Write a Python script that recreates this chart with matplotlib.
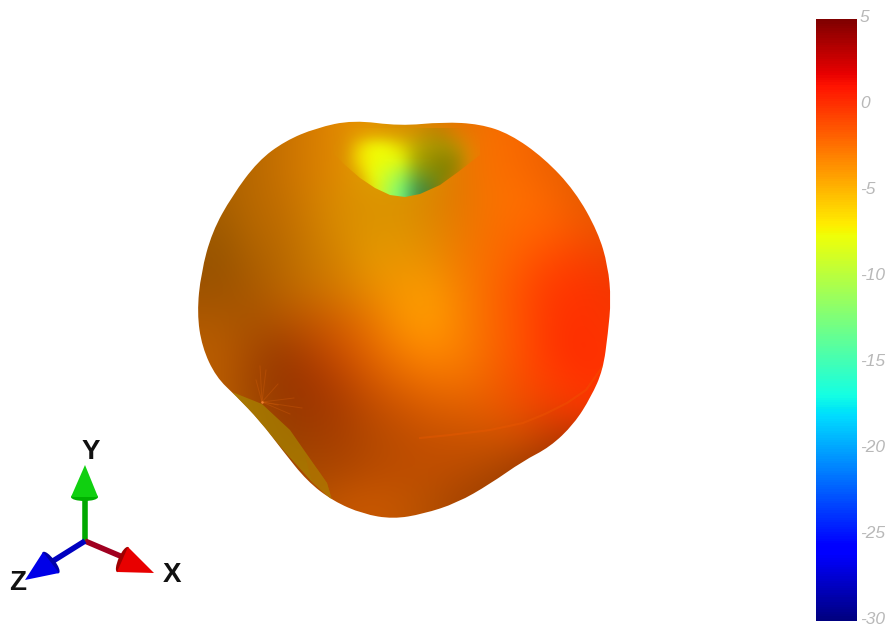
import numpy as np
import matplotlib
matplotlib.use('Agg')
import matplotlib.pyplot as plt
from matplotlib.path import Path
from matplotlib.patches import PathPatch, Polygon, Ellipse
from matplotlib.cm import ScalarMappable
from matplotlib.colors import Normalize
from matplotlib.transforms import ScaledTranslation

# silhouette of the pattern, in picture pixels
outline_x = [353, 400, 443, 480, 510, 544, 575, 598, 608, 611, 608, 603, 591, 574, 550, 523, 490, 457,
             423, 393, 363, 333, 307, 283, 260, 236, 216, 202, 197, 201, 212, 232, 258, 285, 316]
outline_y = [120, 126, 122, 124, 134, 158, 191, 232, 266, 300, 333, 370, 397, 424, 447, 461, 484, 503,
             514, 519, 514, 501, 481, 451, 421, 396, 377, 347, 313, 273, 232, 196, 161, 141, 128]

# gain (dB) and brightness
grid_x = [190, 220, 250, 280, 310, 340, 370, 400, 430, 460, 490, 520, 550, 580, 610]
grid_y = [110, 140, 170, 200, 230, 260, 290, 320, 350, 380, 410, 440, 470, 500, 530]
gain = [
    [-3.6, -3.6, -3.6, -3.6, -3.6, -3.8, -4.0, -4.0, -3.6, -3.0, -2.4, -2.1, -2.0, -2.0, -2.0],
    [-3.6, -3.6, -3.6, -3.6, -3.7, -4.0, -5.0, -5.0, -4.5, -3.2, -2.4, -2.2, -2.1, -2.0, -2.0],
    [-3.6, -3.6, -3.6, -3.6, -3.7, -4.0, -5.0, -5.0, -4.5, -3.2, -2.4, -2.2, -2.1, -2.0, -2.0],
    [-3.6, -3.6, -3.6, -3.6, -3.8, -4.2, -4.5, -4.5, -4.0, -3.2, -2.6, -2.3, -2.1, -1.9, -1.9],
    [-3.5, -3.5, -3.5, -3.6, -3.8, -4.2, -4.5, -4.5, -4.0, -3.2, -2.5, -2.1, -1.8, -1.5, -1.5],
    [-3.4, -3.4, -3.4, -3.6, -3.8, -4.0, -4.3, -4.2, -3.9, -3.0, -2.3, -1.6, -1.0, -0.7, -0.8],
    [-3.2, -3.2, -3.2, -3.3, -3.4, -3.5, -3.8, -4.0, -4.0, -3.1, -2.2, -1.2, -0.4, -0.1, -0.3],
    [-3.0, -3.0, -2.9, -2.6, -2.5, -2.6, -3.0, -3.7, -4.0, -3.2, -2.2, -1.2, -0.3, 0.0, -0.2],
    [-3.0, -2.9, -2.5, -1.9, -1.7, -1.9, -2.4, -3.0, -3.3, -3.0, -2.2, -1.2, -0.3, 0.1, -0.1],
    [-3.0, -2.9, -2.3, -1.6, -1.4, -1.6, -2.0, -2.4, -2.6, -2.6, -2.1, -1.2, -0.5, -0.1, -0.1],
    [-3.0, -3.0, -2.6, -1.9, -1.5, -1.6, -1.9, -2.1, -2.2, -2.2, -1.9, -1.4, -0.8, -0.4, -0.4],
    [-3.0, -3.0, -3.0, -2.2, -1.9, -1.8, -2.0, -2.1, -2.1, -2.1, -2.0, -1.7, -1.2, -0.8, -0.8],
    [-3.0, -3.0, -3.0, -2.6, -2.2, -2.1, -2.1, -2.1, -2.1, -2.1, -2.0, -1.8, -1.5, -1.3, -1.3],
    [-3.0, -3.0, -3.0, -2.7, -2.4, -2.3, -2.3, -2.3, -2.3, -2.1, -2.0, -1.8, -1.6, -1.5, -1.5],
    [-3.0, -3.0, -3.0, -2.7, -2.4, -2.3, -2.3, -2.3, -2.3, -2.1, -2.0, -1.8, -1.6, -1.5, -1.5],
]
shade = [
    [0.70, 0.70, 0.72, 0.78, 0.84, 0.90, 0.90, 0.85, 0.85, 0.90, 0.95, 0.97, 0.97, 0.97, 0.97],
    [0.70, 0.70, 0.72, 0.78, 0.84, 0.88, 0.90, 0.85, 0.85, 0.90, 0.98, 0.97, 0.93, 0.92, 0.92],
    [0.68, 0.68, 0.72, 0.78, 0.84, 0.88, 0.88, 0.85, 0.85, 0.90, 0.98, 0.98, 0.94, 0.90, 0.90],
    [0.66, 0.66, 0.72, 0.76, 0.82, 0.86, 0.86, 0.86, 0.86, 0.90, 0.97, 1.00, 0.98, 0.92, 0.90],
    [0.62, 0.62, 0.70, 0.74, 0.80, 0.85, 0.87, 0.87, 0.88, 0.92, 0.97, 1.00, 1.00, 0.96, 0.92],
    [0.60, 0.60, 0.67, 0.72, 0.78, 0.84, 0.90, 0.92, 0.92, 0.95, 0.98, 1.00, 1.00, 0.98, 0.94],
    [0.62, 0.62, 0.66, 0.72, 0.78, 0.84, 0.91, 0.97, 0.98, 0.97, 0.98, 1.00, 1.00, 1.00, 0.96],
    [0.68, 0.68, 0.66, 0.70, 0.76, 0.83, 0.91, 0.98, 1.00, 0.98, 0.98, 1.00, 1.00, 1.00, 0.98],
    [0.72, 0.72, 0.66, 0.62, 0.70, 0.80, 0.89, 0.96, 1.00, 0.98, 0.97, 1.00, 1.00, 1.00, 1.00],
    [0.72, 0.72, 0.64, 0.60, 0.64, 0.72, 0.82, 0.89, 0.94, 0.95, 0.95, 0.97, 1.00, 1.00, 1.00],
    [0.72, 0.72, 0.64, 0.60, 0.62, 0.66, 0.74, 0.80, 0.85, 0.87, 0.90, 0.92, 0.92, 0.96, 0.96],
    [0.72, 0.72, 0.66, 0.60, 0.63, 0.66, 0.70, 0.74, 0.77, 0.79, 0.80, 0.80, 0.74, 0.70, 0.70],
    [0.72, 0.72, 0.66, 0.64, 0.66, 0.68, 0.72, 0.74, 0.75, 0.73, 0.69, 0.64, 0.60, 0.58, 0.58],
    [0.72, 0.72, 0.68, 0.66, 0.70, 0.76, 0.78, 0.76, 0.71, 0.66, 0.62, 0.58, 0.58, 0.58, 0.58],
    [0.72, 0.72, 0.68, 0.66, 0.70, 0.76, 0.78, 0.76, 0.71, 0.66, 0.62, 0.58, 0.58, 0.58, 0.58],
]

# the dent at the top of the pattern
dent_x = [340, 355, 370, 385, 400, 415, 430, 445, 460, 475]
dent_y = [130, 145, 160, 175, 190, 205]
dent_gain = [
    [-5.0, -5.0, -5.5, -5.5, -5.5, -5.5, -6.0, -5.5, -5.0, -5.0],
    [-5.0, -6.5, -7.5, -7.5, -6.8, -6.5, -6.5, -6.5, -6.0, -5.0],
    [-5.0, -6.8, -7.4, -7.6, -7.6, -7.2, -7.0, -7.0, -6.3, -5.0],
    [-5.0, -6.2, -7.6, -9.0, -10.5, -10.0, -8.5, -7.5, -6.3, -5.0],
    [-5.0, -5.0, -7.5, -10.0, -12.5, -13.0, -11.0, -7.5, -5.0, -5.0],
    [-5.0, -5.0, -7.5, -10.5, -13.0, -13.0, -11.0, -7.5, -5.0, -5.0],
]
dent_shade = [
    [0.85, 0.90, 0.92, 0.90, 0.85, 0.75, 0.65, 0.65, 0.75, 0.85],
    [0.85, 0.97, 1.00, 1.00, 0.90, 0.75, 0.68, 0.66, 0.70, 0.85],
    [0.85, 0.97, 1.00, 1.00, 0.98, 0.70, 0.60, 0.56, 0.62, 0.85],
    [0.85, 0.92, 1.00, 1.00, 0.98, 0.66, 0.56, 0.52, 0.60, 0.85],
    [0.85, 0.90, 1.00, 1.00, 0.98, 0.60, 0.50, 0.50, 0.65, 0.85],
    [0.85, 0.90, 1.00, 1.00, 0.98, 0.60, 0.50, 0.50, 0.65, 0.85],
]
dent_alpha = [
    [0.0, 0.0, 0.0, 0.0, 0.0, 0.2, 0.4, 0.3, 0.0, 0.0],
    [0.0, 0.6, 1.0, 1.0, 1.0, 1.0, 1.0, 1.0, 0.6, 0.1],
    [0.1, 0.8, 1.0, 1.0, 1.0, 1.0, 1.0, 1.0, 0.9, 0.2],
    [0.0, 0.5, 1.0, 1.0, 1.0, 1.0, 1.0, 1.0, 0.7, 0.0],
    [0.0, 0.0, 0.8, 1.0, 1.0, 1.0, 1.0, 0.6, 0.0, 0.0],
    [0.0, 0.0, 0.8, 1.0, 1.0, 1.0, 1.0, 0.6, 0.0, 0.0],
]
dent_edge_x = [330, 345, 360, 375, 390, 405, 420, 440, 458, 480, 480, 330]
dent_edge_y = [150, 165, 178, 188, 195, 197, 194, 185, 172, 155, 128, 128]

# olive strip and folds at the lower left and lower right
strip_x = [232, 262, 290, 313, 327, 332, 312, 285, 258]
strip_y = [392, 404, 430, 463, 483, 500, 482, 452, 420]
strip_tip_x = [305, 318, 327, 332, 312]
strip_tip_y = [455, 470, 483, 500, 482]
star_dx = [-6, -2, 4, 16, 32, 40, 28, 16]
star_dy = [-22, -36, -32, -18, -4, 6, 12, 3]
fold_x = [603, 586, 567, 545, 523, 490, 450, 420]
fold_y = [366, 390, 403, 414, 423, 430, 435, 438]

bar_ticks = [5, 0, -5, -10, -15, -20, -25, -30]

# axis triad: shafts and cones, in picture pixels
origin = (85, 541)
axis_names = ['Y', 'X', 'Z']
axis_ends = [(85, 497), (125, 558), (53, 561)]
shaft_colors = ['#00a800', '#a00020', '#0000c0']
cone_pts = [
    [(85, 465), (71, 497), (98, 497)],
    [(154, 573), (128, 547), (117, 572)],
    [(25, 580), (43, 552), (59, 573)],
]
cone_colors = ['#10d010', '#e80000', '#0000e8']
cone_dark = ['#00b000', '#a00000', '#0000a8']
label_pos = [(91, 452), (172, 575), (18, 583)]


def surface_rgb(values, shades):
    rgb = plt.cm.jet(Normalize(-30, 5)(np.array(values)))[..., :3]
    return rgb * np.array(shades)[..., None]


fig = plt.figure(figsize=(8.9, 6.29), dpi=100)
ax = fig.add_axes([0, 0, 1, 1])

# closed smooth outline
n = len(outline_x)
verts = [((outline_x[-1] + outline_x[0]) / 2, (outline_y[-1] + outline_y[0]) / 2)]
codes = [Path.MOVETO]
for i in range(n):
    j = (i + 1) % n
    verts += [(outline_x[i], outline_y[i]), ((outline_x[i] + outline_x[j]) / 2, (outline_y[i] + outline_y[j]) / 2)]
    codes += [Path.CURVE3, Path.CURVE3]
body = PathPatch(Path(verts, codes), transform=ax.transData, fc='none', ec='none')
ax.add_patch(body)

im = ax.imshow(surface_rgb(gain, shade), interpolation='bicubic', aspect='auto',
               extent=(grid_x[0] - 15, grid_x[-1] + 15, grid_y[-1] + 15, grid_y[0] - 15), zorder=1)
im.set_clip_path(body)

# dent
dent = np.dstack([surface_rgb(dent_gain, dent_shade), dent_alpha])
im2 = ax.imshow(dent, interpolation='bicubic', aspect='auto',
                extent=(dent_x[0] - 7.5, dent_x[-1] + 7.5, dent_y[-1] + 7.5, dent_y[0] - 7.5), zorder=2)
im2.set_clip_path(Polygon(np.column_stack([dent_edge_x, dent_edge_y]), transform=ax.transData))

# lower left strip, star and right fold
strip = ax.add_patch(Polygon(np.column_stack([strip_x, strip_y]), fc='#a89000', ec='none', alpha=0.6, zorder=3))
strip.set_clip_path(body)
tip = ax.add_patch(Polygon(np.column_stack([strip_tip_x, strip_tip_y]), fc='#b06a00', ec='none', alpha=0.5, zorder=3))
tip.set_clip_path(body)
for dx, dy in zip(star_dx, star_dy):
    ax.plot([262, 262 + dx], [402, 402 + dy], color='#e86a10', lw=0.7, alpha=0.25, zorder=3)
ax.plot([262], [402], 'o', ms=1.8, color='#f08030', mew=0, zorder=3)
fold, = ax.plot(fold_x, fold_y, color='#f05a00', lw=1.5, alpha=0.35, zorder=3)
fold.set_clip_path(body)

# triad
for k, name in enumerate(axis_names):
    ax.plot([origin[0], axis_ends[k][0]], [origin[1], axis_ends[k][1]], color=shaft_colors[k], lw=4,
            solid_capstyle='butt', zorder=4)
    apex, p1, p2 = cone_pts[k]
    base_c = ((p1[0] + p2[0]) / 2, (p1[1] + p2[1]) / 2)
    base_w = np.hypot(p1[0] - p2[0], p1[1] - p2[1])
    angle = np.degrees(np.arctan2(p2[1] - p1[1], p2[0] - p1[0]))
    ax.add_patch(Ellipse(base_c, base_w, 8, angle=angle, fc=cone_dark[k], ec='none', zorder=5))
    ax.add_patch(Polygon([apex, p1, p2], fc=cone_colors[k], ec='none', zorder=6))
    ax.text(label_pos[k][0], label_pos[k][1], name, fontsize=20, fontweight='bold', family='Liberation Sans',
            ha='center', va='center', color='#111111', zorder=7)

ax.set_xlim(0, 890)
ax.set_ylim(629, 0)
ax.axis('off')

# colour bar
cax = fig.add_axes([816 / 890, 1 - 621 / 629, 41 / 890, 602 / 629])
cb = fig.colorbar(ScalarMappable(Normalize(-30, 5), 'jet'), cax=cax)
cb.outline.set_visible(False)
cb.set_ticks(bar_ticks)
cb.set_ticklabels([str(t) for t in bar_ticks])
cax.tick_params(length=0, pad=2)
for lab in cax.get_yticklabels():
    lab.set_fontfamily('Liberation Sans')
    lab.set_fontstyle('italic')
    lab.set_fontsize(12.5)
    lab.set_color('#b8b8b8')
    lab.set_transform(lab.get_transform() + ScaledTranslation(0, 2 / 72, fig.dpi_scale_trans))

fig.savefig('out.png', dpi=100)
